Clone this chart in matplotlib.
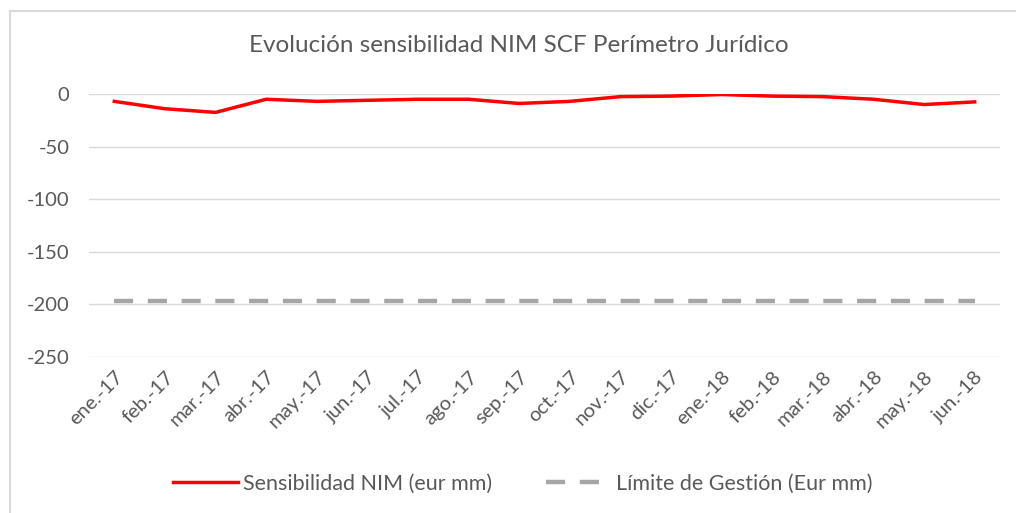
import matplotlib.pyplot as plt
from matplotlib.patches import Rectangle

# Data
months = ["ene.-17", "feb.-17", "mar.-17", "abr.-17", "may.-17", "jun.-17",
          "jul.-17", "ago.-17", "sep.-17", "oct.-17", "nov.-17", "dic.-17",
          "ene.-18", "feb.-18", "mar.-18", "abr.-18", "may.-18", "jun.-18"]
sensibilidad = [-7, -14, -17.5, -5, -7, -6, -5, -5, -9, -7, -2.5, -2,
                -0.5, -2, -2.5, -5, -10, -7.5]
limite = [-197] * len(months)

plt.rcParams['font.family'] = ['Lato', 'DejaVu Sans']
plt.rcParams['axes.unicode_minus'] = False
grey = '#595959'

fig = plt.figure(figsize=(10.16, 5.13), dpi=100)
W, H = 1016, 513
ax = fig.add_axes([89 / W, 1 - 357 / H, (1000 - 89) / W, (357 - 94) / H])

x = range(len(months))
ax.plot(x, sensibilidad, color='#ff0000', lw=2.5, label='Sensibilidad NIM (eur mm)',
        solid_joinstyle='round', zorder=3)
ax.plot(x, limite, color='#a6a6a6', lw=3.2, ls=(0, (4.3, 3.3)),
        label='Límite de Gestión (Eur mm)', zorder=2)

ax.set_xlim(-0.5, len(months) - 0.5)
ax.set_ylim(-250, 0)
ax.set_yticks([0, -50, -100, -150, -200, -250])
ax.set_xticks(list(x))
ax.set_xticklabels(months, rotation=45, ha='right', rotation_mode='anchor')
ax.tick_params(axis='both', length=0, colors=grey, labelsize=14.5)
ax.tick_params(axis='y', pad=14)
ax.tick_params(axis='x', pad=8)
ax.grid(axis='y', color='#d9d9d9', lw=1)
ax.set_axisbelow(True)
for s in ax.spines.values():
    s.set_visible(False)

fig.text(519 / W, 1 - 46 / H, 'Evolución sensibilidad NIM SCF Perímetro Jurídico',
         ha='center', va='center', fontsize=17.5, color=grey)

leg = fig.legend(loc='center', bbox_to_anchor=(523 / W, 1 - 484 / H), ncol=2,
                 frameon=False, fontsize=15.5, handlelength=3.0, columnspacing=2.5,
                 handletextpad=0.25)
for t in leg.get_texts():
    t.set_color(grey)

fig.patches.append(Rectangle((10 / W, -0.05), 1.1, 1 - 11 / H + 0.05,
                             transform=fig.transFigure, fill=False,
                             edgecolor='#d9d9d9', lw=1.5))

fig.savefig('out.png', dpi=100)
